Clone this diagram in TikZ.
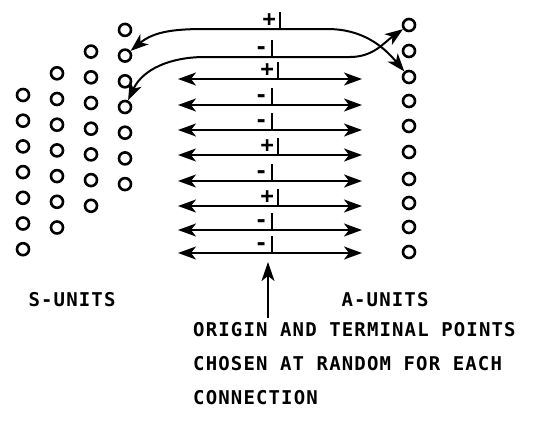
\documentclass[tikz,border=0pt]{standalone}
\usepackage{fontspec}
\newfontfamily\leroy[LetterSpace=6]{DejaVu Sans Mono}
\usetikzlibrary{arrows.meta,positioning}

\tikzstyle{unit}=[draw, circle, line width=2.6pt, minimum size=12pt, inner sep=0pt]
\tikzstyle{link}=[line width=2pt, {Stealth[length=18pt,width=13pt,inset=5pt]}-{Stealth[length=18pt,width=13pt,inset=5pt]}]
\tikzstyle{pointer}=[line width=2pt, -{Stealth[length=19pt,width=13pt,inset=5pt]}]
\tikzstyle{tick}=[line width=2pt]
\tikzstyle{sign}=[font=\leroy\bfseries\fontsize{22}{22}\selectfont, inner sep=0pt]
\tikzstyle{caption}=[font=\leroy\bfseries\fontsize{19}{34}\selectfont, inner sep=0pt]
\def\tickh{17}

\begin{document}
\begin{tikzpicture}[x=1pt,y=1pt]
	\useasboundingbox (0,0) rectangle (547,-442);
	% Define the nodes in the picture
	\foreach \c in {1,...,4}
		\foreach \r in {1,...,7}
			\node (s-\c-\r) [unit] at ({23+34*(\c-1)},{-95+21.7*(\c-1)-25.7*(\r-1)}) {};
	\foreach \y [count=\r] in {25,51,77,101,126,152,179,203,227,252}
		\node (a-\r) [unit] at (409,-\y) {};

	\coordinate (c1a) at (205,-29);
	\coordinate (c1b) at (327,-29);
	\coordinate (c2a) at (205,-57);
	\coordinate (c2b) at (350,-57);
	\coordinate (ptr) at (268,-262);

	\node (s-label) [caption] at (72,-300) {S-UNITS};
	\node (a-label) [caption] at (385,-300) {A-UNITS};
	\node (note) [caption, anchor=north west, align=left] at (193,-322)
		{ORIGIN AND TERMINAL POINTS\\CHOSEN AT RANDOM FOR EACH\\CONNECTION};

	% Define the edges in the picture
	\draw [link] (s-4-2) to[out=40,in=180] (c1a) -- (c1b) to[out=0,in=130] (a-3);
	\draw [link] (s-4-4) to[out=65,in=180] (c2a) -- (c2b) to[out=0,in=215] (a-1);
	\foreach \y [count=\i from 3] in {79,105,130,155,181,206,230,253} {
		\coordinate (l-\i) at (178,-\y);
		\coordinate (r-\i) at (362,-\y);
		\draw [link] (l-\i) -- (r-\i);
	}
	\foreach \y/\s/\t [count=\i] in {29/+/280,57/-/272,79/+/278,105/-/272,130/-/272,
			155/+/278,181/-/272,206/+/278,230/-/272,253/-/272} {
		\coordinate (t-\i) at (\t,-\y);
		\draw [tick] (t-\i) -- ++(0,\tickh);
		\node [sign, anchor=base east] at ([shift={(-4,3)}]t-\i) {\s};
	}
	\draw [pointer, shorten <=4pt] (ptr |- note.north) -- (ptr);
\end{tikzpicture}
\end{document}
